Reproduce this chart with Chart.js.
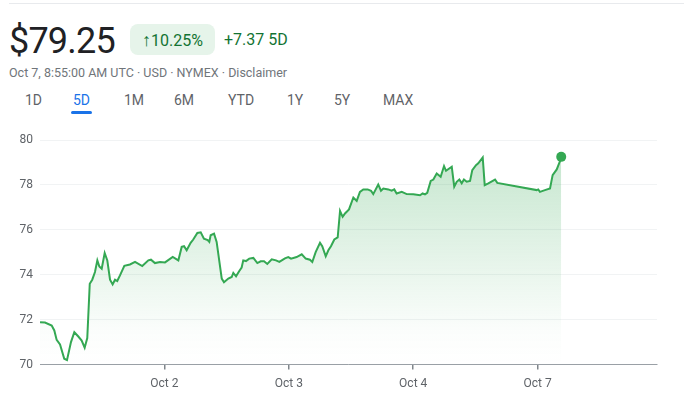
<!DOCTYPE html>
<html>
<head>
<meta charset="utf-8">
<script src="https://cdn.jsdelivr.net/npm/chart.js@4.4.1/dist/chart.umd.min.js"></script>
<style>
    body { margin: 0; width: 684px; height: 401px; background: #fff; font-family: Roboto, Arial, sans-serif; position: relative; overflow: hidden; }
    .topline { position: absolute; left: 9px; right: 0; top: 3px; border-top: 1px solid #e8eaed; }
    .price { position: absolute; left: 9px; top: 20px; font-size: 36px; color: #202124; letter-spacing: -0.8px; }
    .badge { position: absolute; left: 130px; top: 24px; width: 85px; height: 31px; border-radius: 8px; background: #e6f4ea; color: #137333; font-size: 16px; line-height: 31px; text-align: center; }
    .badge .arrow { font-size: 18px; }
    .change { position: absolute; left: 224px; top: 24px; line-height: 31px; font-size: 16px; color: #137333; }
    .sub { position: absolute; left: 9px; top: 65px; font-size: 12.5px; color: #70757a; }
    .tabs { position: absolute; top: 92px; left: 0; font-size: 14px; color: #5f6368; }
    .tab { position: absolute; white-space: nowrap; }
    .tab.active { color: #1a73e8; }
    .tab.active::after { content: ''; position: absolute; left: -2px; right: -2px; top: 19px; height: 3px; border-radius: 2px; background: #1a73e8; }
    #chartWrap { position: absolute; left: 0; top: 118px; width: 684px; height: 283px; }
</style>
</head>
<body>
<div class="topline"></div>
<div class="price">$79.25</div>
<div class="badge"><span class="arrow">&#8593;</span>10.25%</div>
<div class="change">+7.37 5D</div>
<div class="sub">Oct 7, 8:55:00 AM UTC · USD · NYMEX · Disclaimer</div>
<div class="tabs" id="tabs"></div>
<div id="chartWrap"><canvas id="priceChart"></canvas></div>

<script>
// range tabs
const tabLabels = ['1D', '5D', '1M', '6M', 'YTD', '1Y', '5Y', 'MAX'];
const tabLeft = [25, 73, 124, 174, 228, 287, 334, 383];

// x position of each reading, in trading days from the start of Oct 1
const times = [
    0.00, 0.04, 0.094, 0.115, 0.134, 0.161, 0.195, 0.217, 0.249, 0.276,
    0.308, 0.335, 0.359, 0.38, 0.40, 0.42, 0.442, 0.461, 0.477, 0.496,
    0.52, 0.541, 0.563, 0.584, 0.603, 0.621, 0.643, 0.678, 0.723, 0.764,
    0.822, 0.871, 0.892, 0.924, 0.965, 1.005, 1.067, 1.112, 1.139, 1.158,
    1.179, 1.211, 1.232, 1.265, 1.292, 1.318, 1.348, 1.361, 1.372, 1.399,
    1.42, 1.461, 1.479, 1.514, 1.541, 1.554, 1.576, 1.602, 1.621, 1.634,
    1.656, 1.682, 1.715, 1.747, 1.774, 1.801, 1.827, 1.863, 1.897, 1.924,
    1.969, 1.996, 2.018, 2.063, 2.104, 2.136, 2.170, 2.189, 2.216, 2.251,
    2.269, 2.297, 2.318, 2.339, 2.366, 2.393, 2.412, 2.433, 2.452, 2.484,
    2.519, 2.546, 2.572, 2.599, 2.634, 2.661, 2.679, 2.719, 2.741, 2.760,
    2.800, 2.827, 2.848, 2.867, 2.908, 2.948, 3.001, 3.055, 3.076, 3.095,
    3.113, 3.141, 3.162, 3.189, 3.221, 3.248, 3.264, 3.310, 3.330, 3.350,
    3.371, 3.390, 3.408, 3.430, 3.457, 3.475, 3.505, 3.523, 3.559, 3.575,
    3.604, 3.658, 3.676, 3.993, 4.005, 4.019, 4.059, 4.100, 4.121, 4.154,
    4.186, 4.19
];

const prices = [
    71.89, 71.87, 71.74, 71.52, 71.10, 70.90, 70.26, 70.20, 71.00, 71.44,
    71.25, 71.07, 70.75, 71.18, 73.60, 73.78, 74.12, 74.64, 74.37, 74.27,
    74.97, 74.64, 73.78, 73.57, 73.78, 73.72, 73.97, 74.40, 74.46, 74.57,
    74.39, 74.64, 74.67, 74.52, 74.57, 74.55, 74.79, 74.64, 75.24, 75.27,
    75.09, 75.42, 75.57, 75.86, 75.89, 75.61, 75.54, 75.46, 75.76, 75.83,
    75.46, 73.83, 73.67, 73.83, 73.90, 74.08, 73.93, 74.17, 74.32, 74.64,
    74.61, 74.72, 74.75, 74.52, 74.60, 74.60, 74.48, 74.69, 74.64, 74.57,
    74.73, 74.79, 74.72, 74.79, 74.91, 74.72, 74.67, 74.57, 75.01, 75.42,
    75.27, 74.82, 75.09, 75.27, 75.57, 75.66, 76.84, 76.58, 76.73, 76.91,
    77.44, 77.29, 77.69, 77.80, 77.80, 77.74, 77.59, 78.02, 77.74, 77.84,
    77.80, 77.74, 77.80, 77.62, 77.69, 77.59, 77.58, 77.54, 77.62, 77.58,
    77.65, 78.18, 78.24, 78.51, 78.36, 78.84, 78.63, 78.81, 77.92, 78.14,
    78.24, 78.07, 78.24, 78.14, 78.18, 78.66, 78.88, 78.96, 79.22, 77.99,
    78.07, 78.24, 78.09, 77.77, 77.80, 77.69, 77.77, 77.84, 78.44, 78.69,
    79.14, 79.25
];

// x axis labels (day boundaries) and y axis ticks
const dayTicks = [1, 2, 3, 4];
const dayLabels = ['Oct 2', 'Oct 3', 'Oct 4', 'Oct 7'];
const yTicks = [70, 72, 74, 76, 78, 80];

// build tabs
const tabsEl = document.getElementById('tabs');
tabLabels.forEach(function(label, i) {
    const el = document.createElement('span');
    el.className = 'tab' + (label === '5D' ? ' active' : '');
    el.style.left = tabLeft[i] + 'px';
    el.textContent = label;
    tabsEl.appendChild(el);
});

const points = times.map(function(t, i) {
    return { x: t, y: prices[i] };
});
const lastIndex = points.length - 1;

Chart.defaults.font.family = 'Roboto, Arial, sans-serif';
Chart.defaults.font.size = 12;
Chart.defaults.color = '#5f6368';

new Chart(document.getElementById('priceChart'), {
    type: 'line',
    data: {
        datasets: [{
            data: points,
            borderColor: '#34a853',
            borderWidth: 2,
            tension: 0,
            fill: 'start',
            backgroundColor: function(context) {
                const area = context.chart.chartArea;
                if (!area) return 'rgba(52,168,83,0.2)';
                const g = context.chart.ctx.createLinearGradient(0, area.top, 0, area.bottom);
                g.addColorStop(0, 'rgba(52,168,83,0.30)');
                g.addColorStop(0.85, 'rgba(52,168,83,0.02)');
                g.addColorStop(1, 'rgba(52,168,83,0)');
                return g;
            },
            pointRadius: function(ctx) { return ctx.dataIndex === lastIndex ? 5 : 0; },
            pointBackgroundColor: '#34a853',
            pointBorderWidth: 0,
            pointHoverRadius: 0
        }]
    },
    options: {
        responsive: true,
        maintainAspectRatio: false,
        animation: false,
        layout: { padding: { top: 22, right: 27, left: 0, bottom: 3 } },
        plugins: { legend: { display: false }, tooltip: { enabled: false } },
        scales: {
            x: {
                type: 'linear',
                min: 0,
                max: 4.96,
                afterBuildTicks: function(scale) {
                    scale.ticks = dayTicks.map(function(v) { return { value: v }; });
                },
                ticks: {
                    padding: 7,
                    maxRotation: 0,
                    callback: function(value) {
                        const i = dayTicks.indexOf(value);
                        return i >= 0 ? dayLabels[i] : '';
                    }
                },
                grid: { drawOnChartArea: false, drawTicks: true, tickLength: 5, color: '#80868b', lineWidth: 1.5 },
                border: { display: true, color: '#9aa0a6', width: 1 }
            },
            y: {
                min: 70,
                max: 80,
                afterBuildTicks: function(scale) {
                    scale.ticks = yTicks.map(function(v) { return { value: v }; });
                },
                afterFit: function(scale) { scale.width = 40; },
                ticks: { padding: 7 },
                grid: { drawTicks: false, color: '#f1f3f4' },
                border: { display: false }
            }
        }
    }
});
</script>
</body>
</html>
